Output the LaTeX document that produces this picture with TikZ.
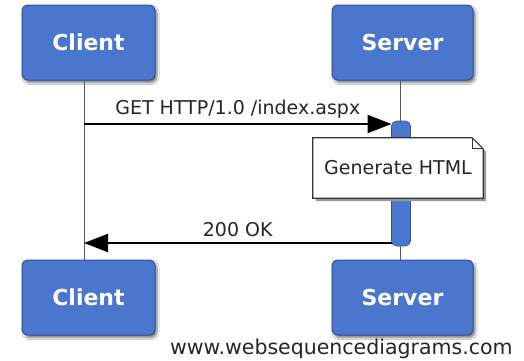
\documentclass[tikz,border=0pt]{standalone}
\usepackage{fontspec}
\setmainfont{DejaVu Sans}
\usetikzlibrary{arrows.meta,shadows.blur}
\definecolor{actorblue}{RGB}{74,118,206}
\definecolor{actoredge}{RGB}{48,82,160}
\tikzset{
  actor/.style={draw=actoredge, line width=1pt, fill=actorblue, rounded corners=6pt,
    blur shadow={shadow xshift=2pt, shadow yshift=-2.5pt, shadow blur steps=6, shadow opacity=55},
    text=white, font=\fontsize{22}{24}\selectfont\bfseries, inner sep=0pt},
  lifeline/.style={draw=black!65, line width=0.9pt},
  msg/.style={draw=black, line width=2pt, -{Triangle[length=24pt,width=18pt]}},
  msglabel/.style={font=\fontsize{19}{21}\selectfont, text=black!85, inner sep=0pt},
  activation/.style={fill=actorblue, draw=actoredge, line width=0.6pt, rounded corners=5pt},
  notebody/.style={draw=black!80, fill=white, line width=1.2pt},
}
\begin{document}
\begin{tikzpicture}[x=1pt, y=-1pt]
  \useasboundingbox (0,0) rectangle (524,360);
  \fill[white] (0,0) rectangle (524,360);

  % participants, head and foot
  \node[actor, minimum width=133pt, minimum height=75pt] (ct) at (88.5,42.5) {Client};
  \node[actor, minimum width=141pt, minimum height=75pt] (st) at (402.5,42.5) {Server};
  \node[actor, minimum width=133pt, minimum height=75pt] (cb) at (88.5,297.5) {Client};
  \node[actor, minimum width=141pt, minimum height=75pt] (sb) at (402.5,297.5) {Server};

  % lifelines
  \coordinate (cl) at (84,0);
  \coordinate (sl) at (400,0);
  \draw[lifeline] (ct.south -| cl) -- (cb.north -| cl);
  \draw[lifeline] (st.south -| sl) -- (sb.north -| sl);

  % activation bar on the server
  \draw[activation] (391.5,121) rectangle (410.5,246);
  \coordinate (actTop) at (391.5,124);
  \coordinate (actBot) at (391.5,243);

  % request
  \coordinate (reqStart) at (84,124);
  \draw[msg] (reqStart) -- node[msglabel, above=5pt] {GET HTTP/1.0 /index.aspx} (actTop);

  % note over the server, with a folded corner and a soft shadow
  \node[msglabel, minimum width=170pt, minimum height=60pt] (note) at (398,168) {};
  \fill[black!40]
    ([shift={(3pt,-3pt)}]note.north west) -- ([shift={(-8pt,-3pt)}]note.north east)
    -- ([shift={(3pt,-14pt)}]note.north east)
    -- ([shift={(3pt,-3pt)}]note.south east) -- ([shift={(3pt,-3pt)}]note.south west) -- cycle;
  \draw[notebody]
    (note.north west) -- ([xshift=-11pt]note.north east) -- ([yshift=-11pt]note.north east)
    -- (note.south east) -- (note.south west) -- cycle;
  \draw[black!80, line width=0.8pt]
    ([xshift=-11pt]note.north east) -- ([xshift=-11pt,yshift=-11pt]note.north east)
    -- ([yshift=-11pt]note.north east);
  \node[msglabel] at (note.center) {Generate HTML};

  % response
  \coordinate (respEnd) at (84,243);
  \draw[msg] (actBot) -- node[msglabel, above=5pt] {200 OK} (respEnd);

  % footer
  \node[font=\fontsize{20.5}{22}\selectfont, text=black!85, anchor=base west, inner sep=0pt] (foot)
    at (170,354) {www.websequencediagrams.com};
\end{tikzpicture}
\end{document}
